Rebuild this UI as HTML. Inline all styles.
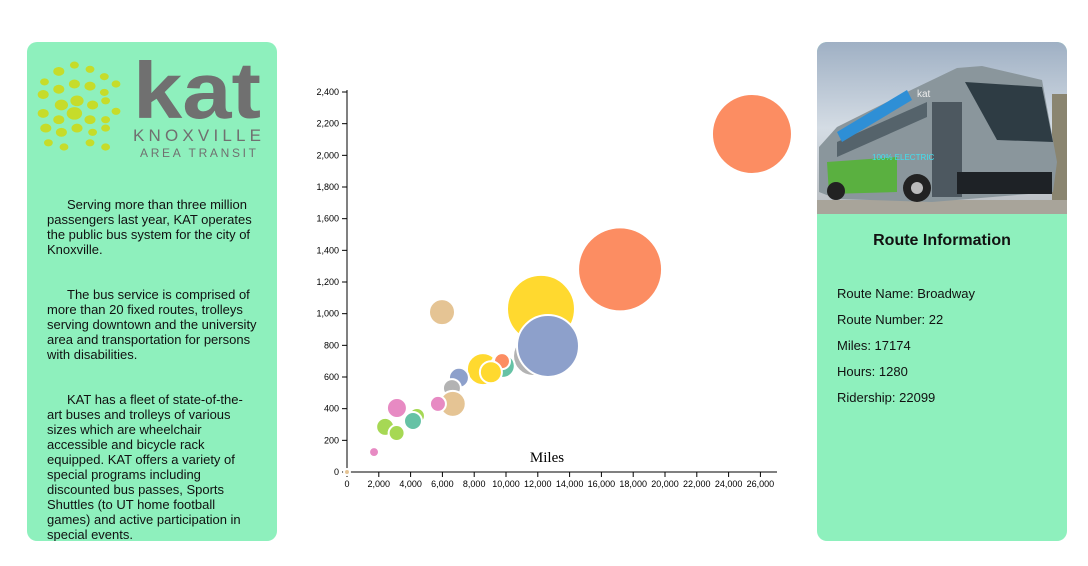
<!DOCTYPE html>
<html><head><meta charset="utf-8"><style>
body{margin:0;width:1088px;height:566px;background:#fff;font-family:"Liberation Sans",sans-serif;position:relative;overflow:hidden}
.panel{position:absolute;top:42px;width:250px;height:499px;background:#8ef0bd;border-radius:10px;overflow:hidden}
.txt p{margin:0;position:absolute;left:20px;width:212px;font-size:13px;line-height:15px;text-align:left;color:#111;text-indent:20px}
.ri{position:absolute;left:20px;font-size:13px;color:#111}
</style></head><body>
<div class="panel txt" style="left:27px">
<svg width="250" height="130" style="position:absolute;left:0;top:0">
<g fill="#c6dc2a" id="dots" transform="translate(-2,0) scale(1.3,1.05)"></g>
<text x="106" y="76" font-size="80" font-weight="bold" font-family="Liberation Sans" fill="#707070" textLength="128" lengthAdjust="spacingAndGlyphs">kat</text>
<text x="106" y="99" font-size="17" fill="#707070" textLength="128" lengthAdjust="spacing">KNOXVILLE</text>
<text x="113" y="115" font-size="12" fill="#707070" textLength="116" lengthAdjust="spacing">AREA TRANSIT</text>
</svg>
<p style="top:155px">Serving more than three million passengers last year, KAT operates the public bus system for the city of Knoxville.</p>
<p style="top:245px">The bus service is comprised of more than 20 fixed routes, trolleys serving downtown and the university area and transportation for persons with disabilities.</p>
<p style="top:350px;width:200px">KAT has a fleet of state-of-the-art buses and trolleys of various sizes which are wheelchair accessible and bicycle rack equipped. KAT offers a variety of special programs including discounted bus passes, Sports Shuttles (to UT home football games) and active participation in special events.</p>
</div>
<svg id="chart" width="1088" height="566" style="position:absolute;left:0;top:0"></svg>
<div class="panel" style="left:817px">
<svg width="250" height="172" style="position:absolute;left:0;top:0">
<defs><linearGradient id="sky" x1="0" y1="0" x2="0" y2="1"><stop offset="0" stop-color="#9fb0c4"/><stop offset="0.5" stop-color="#d4dce4"/><stop offset="1" stop-color="#b8bcc0"/></linearGradient></defs>
<rect width="250" height="172" fill="url(#sky)"/>
<rect x="235" y="52" width="15" height="110" fill="#8a8570"/>
<rect x="0" y="158" width="250" height="14" fill="#a8a49a"/>
<polygon points="2,105 20,85 90,50 140,26 165,24 225,38 240,120 236,150 115,160 20,157 2,150" fill="#8a969c"/>
<polygon points="20,100 110,60 110,75 20,115" fill="#55636b"/>
<polygon points="148,40 225,45 236,100 180,98" fill="#2e3c44"/>
<polygon points="20,90 90,48 95,58 25,100" fill="#2e8fd6"/>
<polygon points="10,120 80,115 80,150 12,152" fill="#5ab040"/>
<rect x="115" y="60" width="30" height="95" fill="#4d5860"/>
<rect x="140" y="130" width="95" height="22" fill="#1e2226"/>
<circle cx="100" cy="146" r="14" fill="#222"/><circle cx="100" cy="146" r="6" fill="#bbb"/>
<circle cx="19" cy="149" r="9" fill="#222"/>
<text x="55" y="118" font-size="8" fill="#40e0f0">100% ELECTRIC</text>
<text x="100" y="55" font-size="10" fill="#eee">kat</text>
</svg>
<div style="position:absolute;top:190px;width:250px;text-align:center;font-size:16px;font-weight:bold;color:#111">Route Information</div>
<div class="ri" style="top:244px">Route Name: Broadway</div>
<div class="ri" style="top:270px">Route Number: 22</div>
<div class="ri" style="top:296px">Miles: 17174</div>
<div class="ri" style="top:322px">Hours: 1280</div>
<div class="ri" style="top:348px">Ridership: 22099</div>
</div>
<script>
const miles=[25470,17174,12200,11700,12640,5975,8550,9800,9750,9050,7040,6600,6650,5720,3140,4400,4150,2400,3120,1700,0];
const hours=[2135,1280,1030,733,796,1010,650,670,700,630,595,530,430,430,404,354,322,285,246,126,0];
const ridership=[20050,22099,14480,5010,12040,2120,3210,1800,800,1520,1250,1010,2120,800,1250,800,1010,1010,800,310,110];
const colors=["#fc8d62","#fc8d62","#ffd92f","#b3b3b3","#8da0cb","#e5c494","#ffd92f","#66c2a5","#fc8d62","#ffd92f","#8da0cb","#b3b3b3","#e5c494","#e78ac3","#e78ac3","#a6d854","#66c2a5","#a6d854","#a6d854","#e78ac3","#e5c494"];
const xTicks=[0,2000,4000,6000,8000,10000,12000,14000,16000,18000,20000,22000,24000,26000];
const yTicks=[0,200,400,600,800,1000,1200,1400,1600,1800,2000,2200,2400];
const NS="http://www.w3.org/2000/svg";
const svg=document.getElementById('chart');
const X=v=>347+v*0.0159, Y=v=>472-v*0.15833, R=v=>0.2825*Math.sqrt(v);
function mk(t,a,p){const e=document.createElementNS(NS,t);for(const k in a)e.setAttribute(k,a[k]);(p||svg).appendChild(e);return e;}
const dg=document.getElementById('dots');
[[15,38,4],[26,28,5],[38,22,4],[50,26,4],[61,33,4],[14,50,5],[26,45,5],[38,40,5],[50,42,5],[61,48,4],[70,40,4],[28,60,6],[40,56,6],[52,60,5],[62,56,4],[14,68,5],[26,74,5],[38,68,7],[50,74,5],[62,74,4],[70,66,4],[16,82,5],[28,86,5],[40,82,5],[52,86,4],[62,82,4],[18,96,4],[30,100,4],[50,96,4],[62,100,4]].forEach(d=>mk('circle',{cx:d[0],cy:d[1],r:d[2]*0.85},dg));
const ax=mk('g',{'font-size':'9','font-family':'Liberation Sans',fill:'#000'});


mk('line',{x1:347,y1:472,x2:777,y2:472,stroke:'#000'},ax);
mk('line',{x1:347,y1:472,x2:347,y2:90,stroke:'#000'},ax);
xTicks.forEach(t=>{mk('line',{x1:X(t),x2:X(t),y1:472,y2:477,stroke:'#000'},ax);const e=mk('text',{x:X(t),y:487,'text-anchor':'middle'},ax);e.textContent=t.toLocaleString('en-US');});
yTicks.forEach(t=>{mk('line',{x1:342,x2:347,y1:Y(t),y2:Y(t),stroke:'#000'},ax);const e=mk('text',{x:339,y:Y(t)+3,'text-anchor':'end'},ax);e.textContent=t.toLocaleString('en-US');});
const xl=mk('text',{x:547,y:462,'text-anchor':'middle','font-size':'15','font-family':'Liberation Serif'});
xl.textContent='Miles';


miles.forEach((m,i)=>{
 const c=mk('circle',{cx:X(m),cy:Y(hours[i]),r:R(ridership[i]),fill:colors[i],stroke:'#fff','stroke-width':2});
 
 
});
</script>
</body></html>
